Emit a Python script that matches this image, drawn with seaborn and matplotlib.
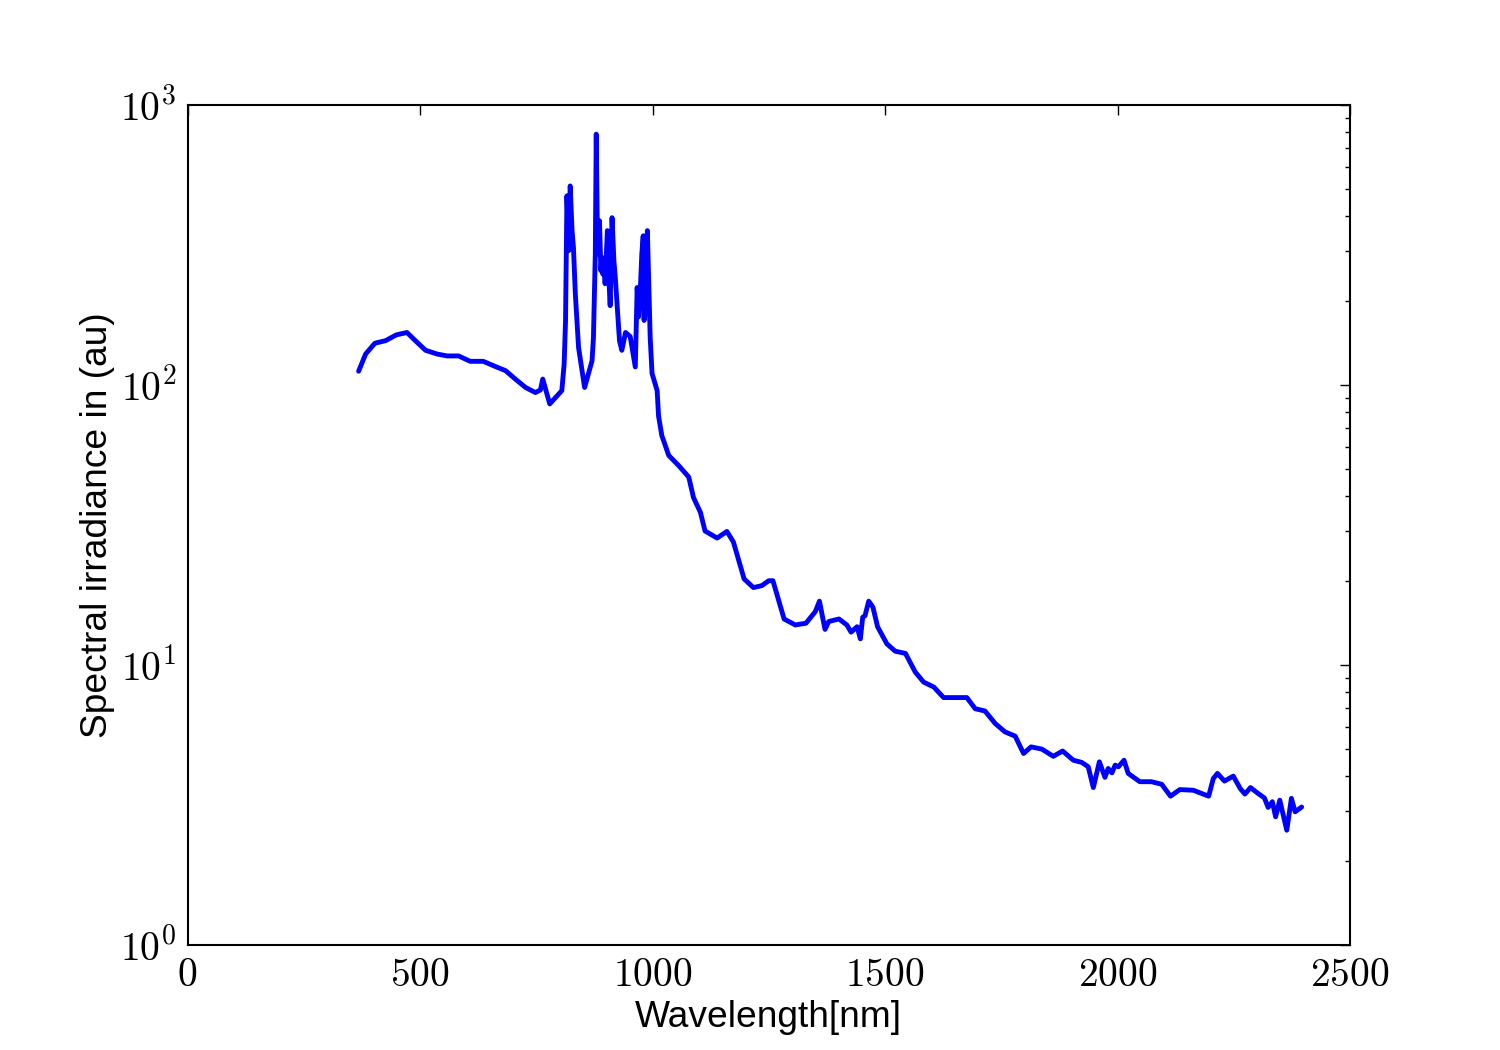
import numpy as np
import pandas as pd
import matplotlib as mpl
mpl.use("Agg")
import matplotlib.pyplot as plt
import matplotlib.ticker as mticker
import seaborn as sb

# Wavelength [nm]
wavelength = [368, 383, 403, 426, 449, 472, 490, 512, 537, 558, 583, 608, 636, 659, 684,
              705, 727, 748, 759, 764, 779, 805, 810, 813, 816, 820, 823, 827, 830, 834,
              841, 854, 870, 873, 877, 879, 882, 886, 889, 891, 893, 896, 898, 903, 906,
              909, 913, 917, 920, 929, 934, 942, 952, 963, 967, 970, 974, 977, 980, 982,
              985, 986, 989, 995, 999, 1010, 1013, 1020, 1035, 1056, 1078, 1088, 1103, 1113,
              1139, 1160, 1174, 1197, 1217, 1235, 1250, 1259, 1283, 1307, 1330, 1350, 1359,
              1371, 1379, 1401, 1418, 1427, 1440, 1447, 1452, 1457, 1465, 1474, 1484, 1504,
              1522, 1544, 1565, 1583, 1605, 1626, 1676, 1694, 1715, 1737, 1758, 1780, 1798,
              1814, 1837, 1862, 1882, 1905, 1923, 1937, 1948, 1961, 1973, 1980, 1988, 1995,
              2002, 2014, 2023, 2048, 2073, 2095, 2114, 2134, 2163, 2196, 2206, 2215, 2230,
              2249, 2264, 2274, 2286, 2301, 2316, 2324, 2333, 2340, 2349, 2364, 2374, 2382,
              2396]

# Spectral irradiance (au)
irradiance = [112, 129, 141, 144, 151, 154, 144, 133, 129, 127, 127, 121.5, 121.5, 117, 112.5,
              105, 98, 94, 96, 105, 85.6, 95.5, 119, 170, 474, 302, 514, 356, 310, 212,
              136, 98, 122, 148, 294, 787, 294, 386, 256, 286, 249, 278, 230, 356, 242,
              192, 396, 278, 242, 144, 133, 154, 149, 116, 223, 175, 223, 294, 341, 170,
              341, 179, 356, 148, 110, 95.5, 77.5, 66, 56, 51.6, 46.9, 39.7, 35.1, 30.1,
              28.4, 30, 27.5, 20.3, 18.9, 19.2, 20, 20, 14.6, 13.9, 14.1, 15.5, 16.9,
              13.4, 14.3, 14.6, 13.9, 13.1, 13.7, 12.4, 14.8, 15.0, 16.9, 16.1, 13.7, 11.9,
              11.2, 11.0, 9.44, 8.69, 8.34, 7.65, 7.65, 6.98, 6.85, 6.18, 5.77, 5.57, 4.83,
              5.10, 5.01, 4.72, 4.93, 4.57, 4.49, 4.33, 3.65, 4.51, 3.97, 4.27, 4.12, 4.39,
              4.33, 4.57, 4.10, 3.83, 3.83, 3.75, 3.40, 3.59, 3.57, 3.40, 3.93, 4.10, 3.85,
              4.01, 3.62, 3.46, 3.65, 3.49, 3.35, 3.10, 3.25, 2.87, 3.29, 2.57, 3.34, 2.99,
              3.11]

sb.set_style("white")
plt.rcParams['font.family'] = ['Liberation Sans', 'DejaVu Sans']
mpl.rcParams['mathtext.fontset'] = 'cm'
mpl.rcParams['axes.linewidth'] = 1.5
for k in ['text.color', 'axes.labelcolor', 'xtick.color', 'ytick.color', 'axes.edgecolor']:
    mpl.rcParams[k] = 'black'

dati = pd.DataFrame({"Wavelength": wavelength, "Irradiance": irradiance})

fig, ax = plt.subplots(figsize=(15, 10.5), dpi=100)
fig.subplots_adjust(left=0.125, right=0.9, bottom=0.1, top=0.9)

sb.lineplot(data=dati, x="Wavelength", y="Irradiance", sort=False, estimator=None,
            color="#0000ff", linewidth=3.5, ax=ax)

ax.set_yscale("log")
ax.set_xlim(0, 2500)
ax.set_ylim(1, 1000)

ax.xaxis.set_major_locator(mticker.MultipleLocator(500))
ax.xaxis.set_major_formatter(mticker.FuncFormatter(lambda v, p: r"$%d$" % v))
ax.yaxis.set_major_locator(mticker.LogLocator(base=10))
ax.yaxis.set_minor_locator(mticker.LogLocator(base=10, subs=np.arange(2, 10)))
ax.yaxis.set_minor_formatter(mticker.NullFormatter())
ax.yaxis.set_major_formatter(mticker.FuncFormatter(lambda v, p: r"$10^{%d}$" % round(np.log10(v))))

ax.tick_params(which="both", direction="in", top=True, right=True, color="black", width=1)
ax.tick_params(which="major", length=7, labelsize=28.5, pad=8)
ax.tick_params(which="minor", length=3.5)

ax.set_xlabel("Wavelength[nm]", fontsize=26.7, color="black")
ax.set_ylabel("Spectral irradiance in (au)", fontsize=26.7, color="black")

fig.savefig("out.png", dpi=100)
